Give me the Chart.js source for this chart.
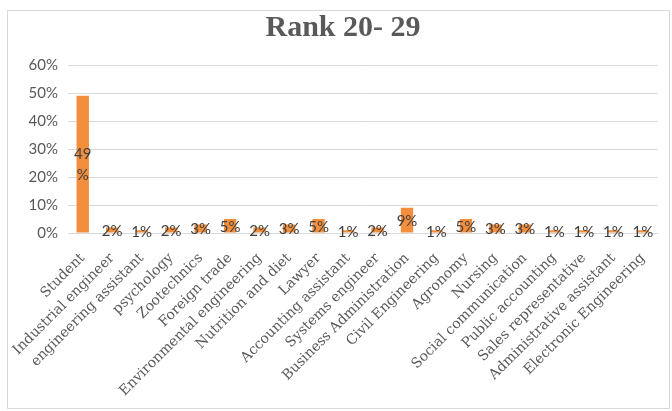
<!DOCTYPE html>
<html>
<head>
<meta charset="utf-8">
<title>Rank 20- 29</title>
<script src="https://cdn.jsdelivr.net/npm/chart.js@4.4.1/dist/chart.umd.min.js"></script>
<style>
  html, body { margin: 0; padding: 0; background: #ffffff; }
  #wrap { position: relative; width: 672px; height: 411px; }
</style>
</head>
<body>
<div id="wrap"><canvas id="chart" width="672" height="411"></canvas></div>
<script>
// Occupations of respondents aged 20-29, share in percent
const categories = [
  'Student', 'Industrial engineer', 'engineering assistant', 'psychology',
  'Zootechnics', 'Foreign trade', 'Environmental engineering', 'Nutrition and diet',
  'Lawyer', 'Accounting assistant', 'Systems engineer', 'Business Administration',
  'Civil Engineering', 'Agronomy', 'Nursing', 'Social communication',
  'Public accounting', 'Sales representative', 'Administrative assistant', 'Electronic Engineering'
];
const shares = [49, 2, 1, 2, 3, 5, 2, 3, 5, 1, 2, 9, 1, 5, 3, 3, 1, 1, 1, 1];
const yAxisMax = 60;
const yAxisStep = 10;

// Light grey frame around the whole chart
const chartFrame = {
  id: 'chartFrame',
  beforeDraw(chart) {
    const ctx = chart.ctx;
    ctx.save();
    ctx.fillStyle = '#ffffff';
    ctx.fillRect(0, 0, chart.width, chart.height);
    ctx.strokeStyle = '#d9d9d9';
    ctx.lineWidth = 1;
    ctx.strokeRect(7.5, 10.5, 662, 398);
    ctx.restore();
  }
};

// Value labels centred on each bar; wrapped when they do not fit the bar width
const valueLabels = {
  id: 'valueLabels',
  afterDatasetsDraw(chart) {
    const ctx = chart.ctx;
    const meta = chart.getDatasetMeta(0);
    const lineH = 21;
    ctx.save();
    ctx.font = '15px Lato';
    ctx.fillStyle = '#404040';
    ctx.textAlign = 'center';
    ctx.textBaseline = 'middle';
    meta.data.forEach((bar, i) => {
      const text = shares[i] + '%';
      const h = bar.base - bar.y;
      const cy = (bar.y + bar.base) / 2;
      const w = ctx.measureText(text).width;
      let lines = [text];
      if (h > 2 * lineH && w > bar.width) lines = [String(shares[i]), '%'];
      const y0 = cy - (lines.length - 1) * lineH / 2;
      lines.forEach((t, k) => ctx.fillText(t, bar.x, y0 + k * lineH + 1));
    });
    ctx.restore();
  }
};

new Chart(document.getElementById('chart'), {
  type: 'bar',
  data: {
    labels: categories,
    datasets: [{
      data: shares,
      backgroundColor: '#f28e3c',
      borderWidth: 0,
      categoryPercentage: 1,
      barPercentage: 0.42
    }]
  },
  options: {
    responsive: false,
    animation: false,
    devicePixelRatio: 1,
    layout: { padding: { left: 26, right: 12, top: 0, bottom: 0 } },
    plugins: {
      legend: { display: false },
      tooltip: { enabled: false },
      title: {
        display: true,
        text: 'Rank 20- 29',
        color: '#595959',
        font: { family: 'Liberation Serif', size: 30, weight: 'bold' },
        padding: { top: 10, bottom: 19 }
      }
    },
    scales: {
      x: {
        offset: true,
        grid: { display: false, drawTicks: false },
        border: { display: true, color: '#d9d9d9', width: 1 },
        ticks: {
          autoSkip: false,
          maxRotation: 45,
          minRotation: 45,
          padding: 17,
          color: '#595959',
          font: { family: 'DejaVu Serif', size: 14 }
        },
        afterFit(scale) { scale.height = 178; }
      },
      y: {
        min: 0,
        max: yAxisMax,
        grid: { color: '#d9d9d9', drawTicks: false },
        border: { display: false },
        ticks: {
          stepSize: yAxisStep,
          padding: 10,
          color: '#595959',
          font: { family: 'Lato', size: 15 },
          callback: v => v + '%'
        },
        afterFit(scale) { scale.width = 42; }
      }
    }
  },
  plugins: [chartFrame, valueLabels]
});
</script>
</body>
</html>
